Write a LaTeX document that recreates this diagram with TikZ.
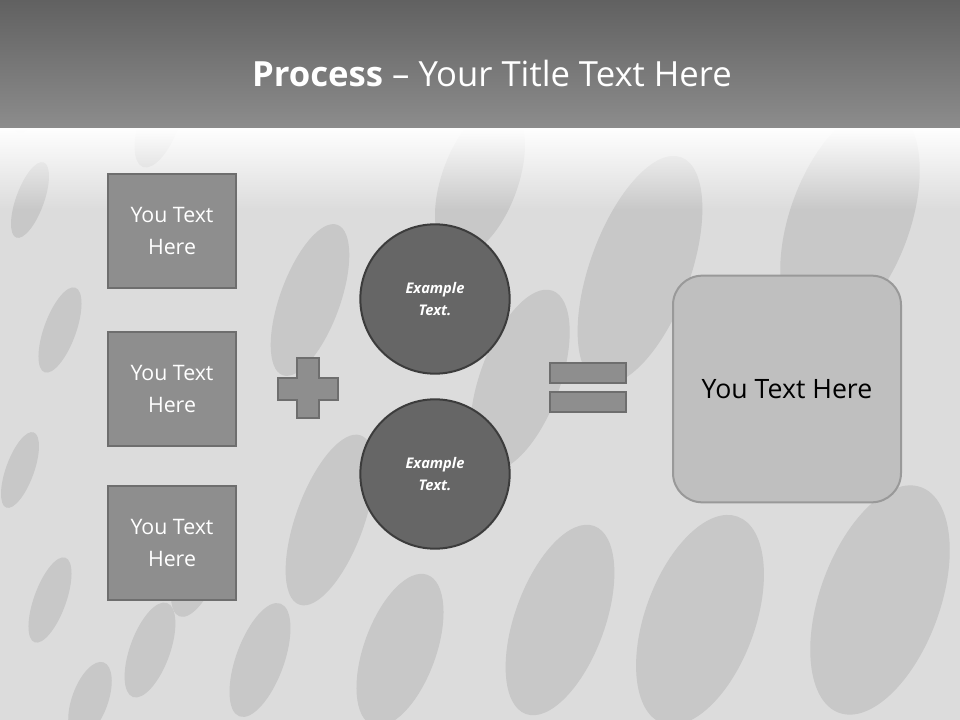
\documentclass[tikz,border=0pt]{standalone}
\usepackage{fontspec}
\setmainfont{Open Sans}
\usetikzlibrary{shapes.geometric,fadings}
\definecolor{bg}{HTML}{DCDCDC}
\definecolor{dot}{HTML}{C8C8C8}
\definecolor{boxf}{HTML}{8E8E8E}
\definecolor{boxd}{HTML}{6E6E6E}
\definecolor{circf}{HTML}{666666}
\definecolor{circd}{HTML}{3C3C3C}
\tikzset{
 txtbox/.style={draw=boxd,fill=boxf,line width=1.5pt,minimum width=96pt,minimum height=85pt,text=white,font=\fontsize{16}{24}\selectfont,align=center},
 circ/.style={circle,draw=circd,fill=circf,line width=1.5pt,minimum size=112pt,text=white,font=\bfseries\itshape\fontsize{11}{17}\selectfont,align=center},
 sym/.style={draw=boxd,fill=boxf,line width=1.2pt},
}
\begin{document}
\begin{tikzpicture}[x=0.75pt,y=-0.75pt]
\useasboundingbox (0,0) rectangle (960,720);
\fill[bg] (0,0) rectangle (960,720);
% texture
\foreach \x/\y/\a/\b in {30/200/14/40,60/330/16/45,20/470/14/40,50/600/16/45,90/700/18/40,150/650/20/50,200/560/22/60,260/660/24/60,310/300/30/80,330/520/34/90,400/650/36/80,520/380/40/95,560/620/45/100,640/270/50/120,700/620/55/110,850/220/60/120,880/600/60/120,480/180/38/80,30/100/14/35,160/120/20/50}
  \fill[dot,rotate around={-20:(\x,\y)}] (\x,\y) ellipse ({\a} and {\b});
\fill[white,path fading=south] (0,128) rectangle (960,210);
\shade[top color=black!62,bottom color=black!45] (0,0) rectangle (960,128);
\node[text=white,font=\fontsize{26}{30}\selectfont] (title) at (492,74) {\textbf{Process} – Your Title Text Here};
% boxes
\node[txtbox] (b1) at (172,231) {You Text\\Here};
\node[txtbox] (b2) at (172,389) {You Text\\Here};
\node[txtbox] (b3) at (172,543) {You Text\\Here};
% plus
\path[sym] (297,358) -- (319,358) -- (319,378) -- (338,378) -- (338,400) -- (319,400) -- (319,418) -- (297,418) -- (297,400) -- (278,400) -- (278,378) -- (297,378) -- cycle;
% circles
\node[circ] (c1) at (435,299) {Example\\Text.};
\node[circ] (c2) at (435,474) {Example\\Text.};
% equals
\path[sym] (550,363) rectangle (626,383);
\path[sym] (550,392) rectangle (626,412);
% result
\node[draw=black!40,fill=black!25,line width=1.5pt,rounded corners=22pt,minimum width=171pt,minimum height=170pt,font=\fontsize{20}{24}\selectfont] (r) at (787,389) {You Text Here};
\end{tikzpicture}
\end{document}
